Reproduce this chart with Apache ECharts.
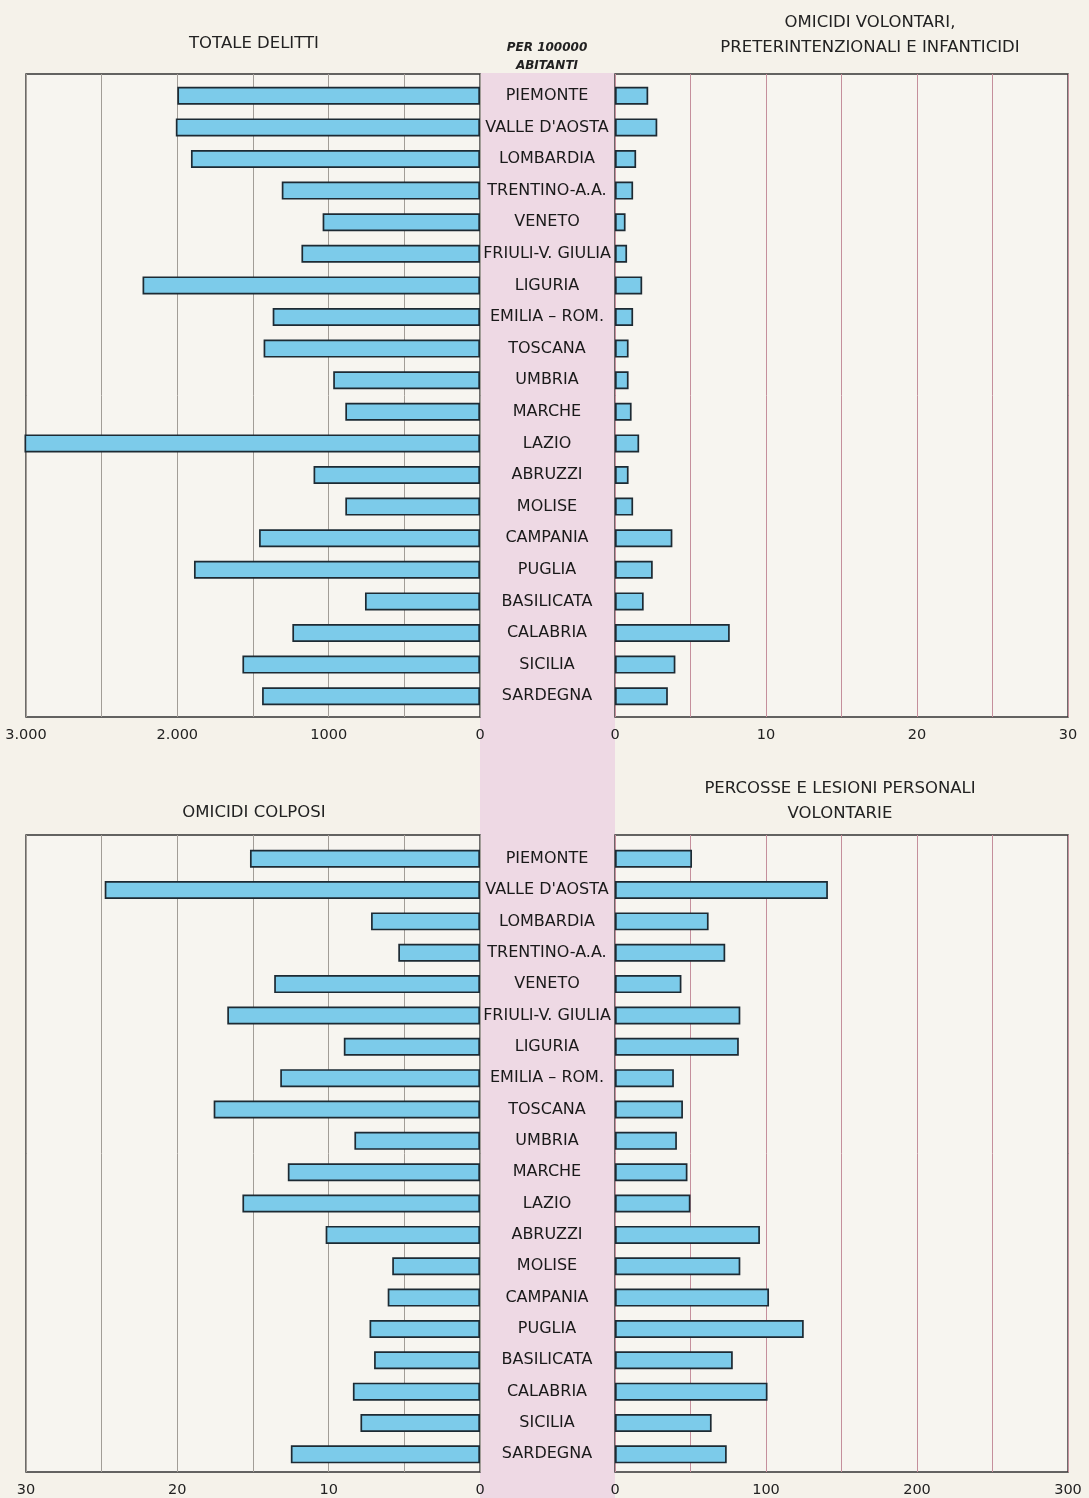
<!DOCTYPE html>
<html><head><meta charset="utf-8">
<script src="https://cdn.jsdelivr.net/npm/echarts@6/dist/echarts.min.js"></script>
<style>html,body{margin:0;padding:0;background:#f5f2ea}#c{width:1089px;height:1498px}</style>
</head><body><div id="c"></div>
<script>
// ---- DATA ----
const regions = ['PIEMONTE', "VALLE D'AOSTA", 'LOMBARDIA', 'TRENTINO-A.A.', 'VENETO', 'FRIULI-V. GIULIA', 'LIGURIA', 'EMILIA – ROM.', 'TOSCANA', 'UMBRIA', 'MARCHE', 'LAZIO', 'ABRUZZI', 'MOLISE', 'CAMPANIA', 'PUGLIA', 'BASILICATA', 'CALABRIA', 'SICILIA', 'SARDEGNA'];
const totaleDelitti   = [2000, 2010, 1910, 1310, 1040, 1180, 2230, 1370, 1430, 970, 890, 3010, 1100, 890, 1460, 1890, 760, 1240, 1570, 1440];
const omicidiVolontari = [2.2, 2.8, 1.4, 1.2, 0.7, 0.8, 1.8, 1.2, 0.9, 0.9, 1.1, 1.6, 0.9, 1.2, 3.8, 2.5, 1.9, 7.6, 4.0, 3.5];
const omicidiColposi  = [15.2, 24.8, 7.2, 5.4, 13.6, 16.7, 9.0, 13.2, 17.6, 8.3, 12.7, 15.7, 10.2, 5.8, 6.1, 7.3, 7.0, 8.4, 7.9, 12.5];
const percosse        = [51, 141, 62, 73, 44, 83, 82, 39, 45, 41, 48, 50, 96, 83, 102, 125, 78, 101, 64, 74];

const ticksTotale = [0, 1000, 2000, 3000];
const labelsTotale = ['0', '1000', '2.000', '3.000'];
const ticksVolontari = [0, 10, 20, 30];
const labelsVolontari = ['0', '10', '20', '30'];
const ticksColposi = [0, 10, 20, 30];
const labelsColposi = ['0', '10', '20', '30'];
const ticksPercosse = [0, 100, 200, 300];
const labelsPercosse = ['0', '100', '200', '300'];

const titles = {
  tl: 'TOTALE DELITTI',
  tr: 'OMICIDI VOLONTARI,\nPRETERINTENZIONALI E INFANTICIDI',
  center: 'PER 100000\nABITANTI',
  bl: 'OMICIDI COLPOSI',
  br: 'PERCOSSE E LESIONI PERSONALI\nVOLONTARIE'
};

// ---- LAYOUT / STYLE ----
const FONT = 'DejaVu Sans';
const L = {left: 26, width: 454}, R = {left: 615, width: 453};
const TOPF = {top: 74, height: 643}, TOPB = {top: 80, height: 632};
const BOTF = {top: 835, height: 638}, BOTB = {top: 843, height: 627};
const barFill = '#7ccbea', barEdge = '#1d2a33';
const leftGridCol = '#a29d97', rightGridCol = '#c58f9c';

function frameGrid(pos, v) { return Object.assign({show: true, borderColor: '#333', borderWidth: 1.4, backgroundColor: '#f7f5f0'}, pos, v); }
function barGrid(pos, v) { return Object.assign({show: false}, pos, v); }

function frameX(gi, max, interval, inverse, ticks, labels, col) {
  return {
    type: 'value', gridIndex: gi, min: 0, max: max, interval: interval, inverse: inverse,
    axisLine: {show: false}, axisTick: {show: false},
    splitLine: {show: true, lineStyle: {color: col, width: 1}},
    axisLabel: {
      show: true, margin: 11, color: '#222', fontFamily: FONT, fontSize: 14.5,
      showMinLabel: true, showMaxLabel: true, hideOverlap: false,
      formatter: function (v) { const i = ticks.indexOf(v); return i >= 0 ? labels[i] : ''; }
    }
  };
}
function barX(gi, max, inverse) {
  return {type: 'value', gridIndex: gi, min: 0, max: max, inverse: inverse, show: false};
}
function frameY(gi) { return {type: 'value', gridIndex: gi, min: 0, max: 1, show: false}; }
function barY(gi, showLabels) {
  return {
    type: 'category', gridIndex: gi, data: regions, inverse: true,
    axisLine: {show: false}, axisTick: {show: false}, splitLine: {show: false},
    axisLabel: {show: showLabels, align: 'center', margin: 68, color: '#1a1a1a', fontFamily: FONT, fontSize: 16}
  };
}
function bars(idx, data) {
  return {
    type: 'bar', xAxisIndex: idx, yAxisIndex: idx, data: data, barWidth: 18, clip: false,
    itemStyle: {color: barFill, borderColor: barEdge, borderWidth: 1.7},
    silent: true
  };
}

const titleStyle = {fill: '#222', font: '16.5px "' + FONT + '"', textAlign: 'center'};

const option = {
  backgroundColor: '#f5f2ea',
  animation: false,
  grid: [
    frameGrid({left: L.left, width: L.width}, TOPF),
    frameGrid({left: R.left, width: R.width}, TOPF),
    frameGrid({left: L.left, width: L.width}, BOTF),
    frameGrid({left: R.left, width: R.width}, BOTF),
    barGrid({left: L.left, width: L.width}, TOPB),
    barGrid({left: R.left, width: R.width}, TOPB),
    barGrid({left: L.left, width: L.width}, BOTB),
    barGrid({left: R.left, width: R.width}, BOTB)
  ],
  xAxis: [
    frameX(0, 3000, 500, true, ticksTotale, labelsTotale, leftGridCol),
    frameX(1, 30, 5, false, ticksVolontari, labelsVolontari, rightGridCol),
    frameX(2, 30, 5, true, ticksColposi, labelsColposi, leftGridCol),
    frameX(3, 300, 50, false, ticksPercosse, labelsPercosse, rightGridCol),
    barX(4, 3000, true), barX(5, 30, false), barX(6, 30, true), barX(7, 300, false)
  ],
  yAxis: [frameY(0), frameY(1), frameY(2), frameY(3), barY(4, false), barY(5, true), barY(6, false), barY(7, true)],
  series: [
    bars(4, totaleDelitti), bars(5, omicidiVolontari), bars(6, omicidiColposi), bars(7, percosse)
  ],
  graphic: [
    {type: 'rect', z: -10, silent: true, shape: {x: 480, y: 73, width: 135, height: 1425}, style: {fill: '#eed9e4'}},
    {type: 'text', silent: true, x: 254, y: 35, style: Object.assign({}, titleStyle, {text: titles.tl})},
    {type: 'text', silent: true, x: 870, y: 10, style: Object.assign({}, titleStyle, {text: titles.tr, lineHeight: 25})},
    {type: 'text', silent: true, x: 547, y: 39, style: {text: titles.center, fill: '#222', font: 'italic bold 12px "' + FONT + '"', textAlign: 'center', lineHeight: 18}},
    {type: 'text', silent: true, x: 254, y: 804, style: Object.assign({}, titleStyle, {text: titles.bl})},
    {type: 'text', silent: true, x: 840, y: 776, style: Object.assign({}, titleStyle, {text: titles.br, lineHeight: 25})}
  ]
};

const chart = echarts.init(document.getElementById('c'), null, {renderer: 'canvas'});
chart.setOption(option);
</script>
</body></html>
